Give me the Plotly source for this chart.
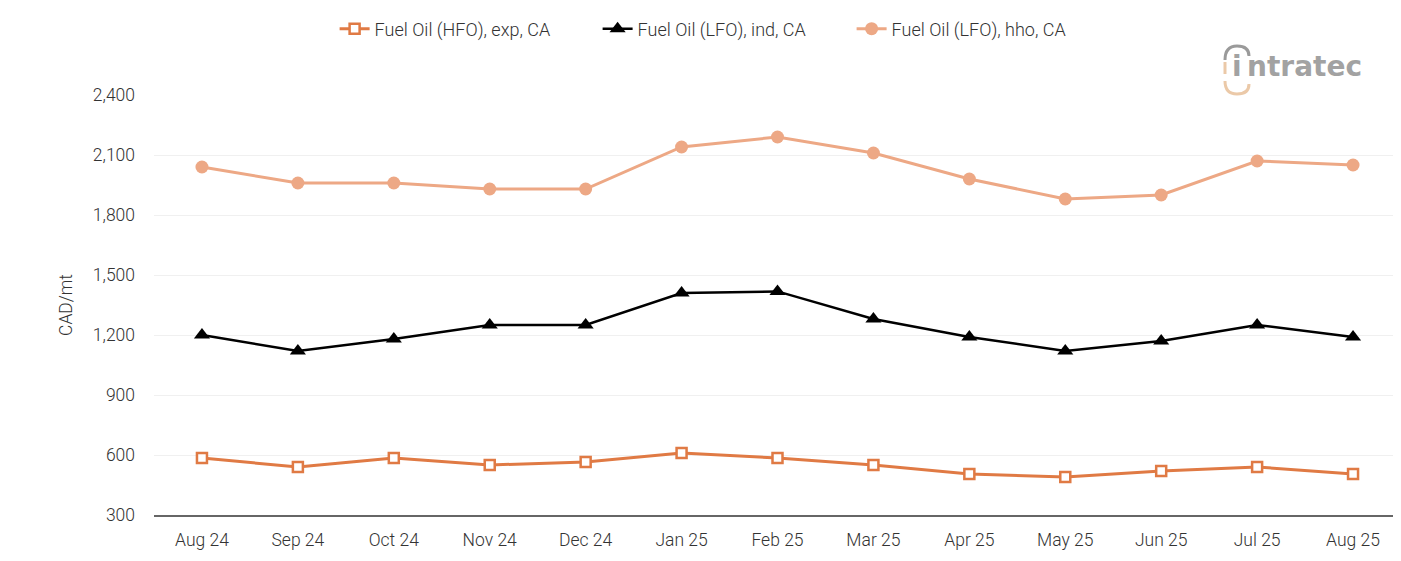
import plotly.graph_objects as go

months = ["Aug 24", "Sep 24", "Oct 24", "Nov 24", "Dec 24", "Jan 25", "Feb 25",
          "Mar 25", "Apr 25", "May 25", "Jun 25", "Jul 25", "Aug 25"]
hfo_exp = [585, 540, 585, 550, 565, 610, 585, 550, 505, 490, 520, 540, 505]
lfo_ind = [1200, 1120, 1180, 1250, 1250, 1410, 1418, 1280, 1190, 1120, 1170, 1250, 1190]
lfo_hho = [2040, 1960, 1960, 1930, 1930, 2140, 2190, 2110, 1980, 1880, 1900, 2070, 2050]
y_ticks = [300, 600, 900, 1200, 1500, 1800, 2100, 2400]

HFO_C = "#E07A44"
HHO_C = "#EDA885"
TXT = "#333333"
FONT = dict(family="Roboto", size=17.5, color=TXT, weight=300)

fig = go.Figure()
fig.add_trace(go.Scatter(
    x=months, y=hfo_exp, name="Fuel Oil (HFO), exp, CA", mode="lines+markers",
    legendwidth=218,
    line=dict(color=HFO_C, width=3),
    marker=dict(symbol="square", size=10, color="white", line=dict(color=HFO_C, width=2.5))))
fig.add_trace(go.Scatter(
    x=months, y=lfo_ind, name="Fuel Oil (LFO), ind, CA", mode="lines+markers",
    legendwidth=209,
    line=dict(color="#000000", width=2.5),
    marker=dict(symbol="triangle-up", size=14, color="#000000")))
fig.add_trace(go.Scatter(
    x=months, y=lfo_hho, name="Fuel Oil (LFO), hho, CA", mode="lines+markers",
    line=dict(color=HHO_C, width=3),
    marker=dict(symbol="circle", size=13, color=HHO_C)))


# logo helper: page pixel -> paper coords (plot area: page x 154..1401, page y 95..515)
def px(x):
    return (x - 154) / 1247


def py(y):
    return (515 - y) / 420


top_arc = (f"M {px(1225)} {py(60)} Q {px(1225)} {py(46)} {px(1237)} {py(46)} "
           f"Q {px(1249)} {py(46)} {px(1249)} {py(56)}")
bot_arc = (f"M {px(1225)} {py(81)} Q {px(1225)} {py(94)} {px(1237)} {py(94)} "
           f"Q {px(1249)} {py(94)} {px(1249)} {py(84)}")
left_bar = f"M {px(1225)} {py(62)} L {px(1225)} {py(74)}"

LOGO_FONT = dict(family="DejaVu Sans", size=28, color="#a2a2a2", weight="bold")

fig.update_layout(
    width=1393, height=553,
    margin=dict(l=146, r=0, t=87, b=46),
    paper_bgcolor="white", plot_bgcolor="white",
    font=FONT,
    showlegend=True,
    legend=dict(orientation="h", xref="container", x=0.499, xanchor="center",
                yref="container", y=0.962, yanchor="middle",
                font=dict(family="Roboto", size=18, color=TXT, weight=300),
                itemwidth=30, traceorder="normal"),
    xaxis=dict(type="category", showgrid=False, showline=True, linecolor="#666666",
               linewidth=1.5, ticks="", tickfont=FONT, ticklabelstandoff=8,
               range=[-0.5, 12.5], fixedrange=True),
    yaxis=dict(range=[300, 2400], tickvals=y_ticks, tickformat=",",
               showgrid=True, gridcolor="#f0f0f0", gridwidth=1, zeroline=False,
               showline=False, ticks="", ticklabelstandoff=18,
               tickfont=FONT,
               title=dict(text="CAD/mt", font=FONT, standoff=15)),
    shapes=[
        dict(type="path", xref="paper", yref="paper", path=top_arc,
             line=dict(color="#9a9a9a", width=3)),
        dict(type="path", xref="paper", yref="paper", path=bot_arc,
             line=dict(color="#EBC9A8", width=3)),
        dict(type="path", xref="paper", yref="paper", path=left_bar,
             line=dict(color="#EBC9A8", width=3)),
    ],
    annotations=[
        dict(text="i", xref="paper", yref="paper", x=px(1237), y=py(66),
             xanchor="center", yanchor="middle", showarrow=False, font=LOGO_FONT),
        dict(text="ntratec", xref="paper", yref="paper", x=px(1364), y=py(66),
             xanchor="right", yanchor="middle", showarrow=False, font=LOGO_FONT),
    ],
)

fig.write_html("out.html")
